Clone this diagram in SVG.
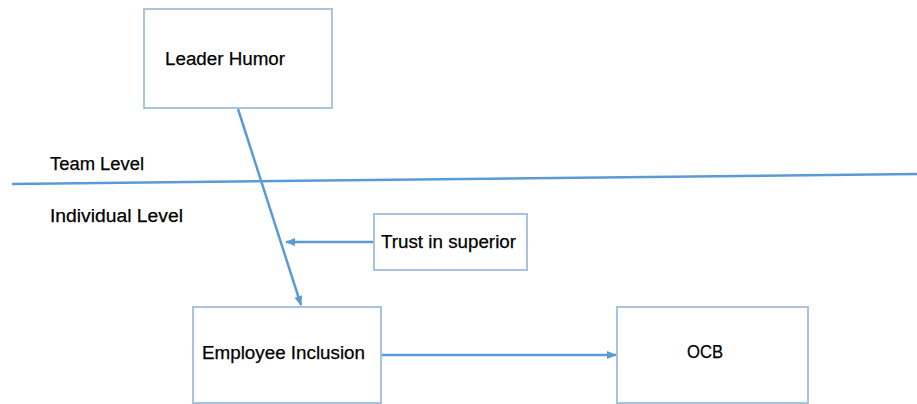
<svg xmlns="http://www.w3.org/2000/svg" width="917" height="404" viewBox="0 0 917 404">
<defs>
<style>
.box{fill:#fff;stroke:#a9c2e0;stroke-width:2}
.lbl{font-family:"Liberation Sans",Arial,sans-serif;font-size:18px;fill:#000;stroke:#000;stroke-width:0.25;lengthAdjust:spacingAndGlyphs}
.ln{stroke:#5b9bd5;stroke-width:2.5;fill:none}
</style>
<marker id="ah" viewBox="0 0 10 10" refX="9" refY="5" markerWidth="4" markerHeight="4" orient="auto" markerUnits="strokeWidth">
<path d="M0,1 L10,5 L0,9 z" fill="#5b9bd5"/>
</marker>
</defs>
<rect width="917" height="404" fill="#fff"/>
<g id="levels">
<text class="lbl" x="50" y="170" textLength="94" lengthAdjust="spacingAndGlyphs">Team Level</text>
<text class="lbl" x="50" y="222" textLength="133" lengthAdjust="spacingAndGlyphs">Individual Level</text>
</g>
<g id="connectors">
<line class="ln" x1="12" y1="184" x2="917" y2="174"/>
<line class="ln" x1="238" y1="109" x2="301" y2="305" marker-end="url(#ah)"/>
<line class="ln" x1="373" y1="242" x2="286" y2="242" marker-end="url(#ah)"/>
<line class="ln" x1="382" y1="355" x2="616" y2="355" marker-end="url(#ah)"/>
</g>
<g id="leader-humor">
<rect class="box" x="144" y="9" width="188" height="99"/>
<text class="lbl" x="165" y="65" textLength="120" lengthAdjust="spacingAndGlyphs">Leader Humor</text>
</g>
<g id="trust">
<rect class="box" x="374" y="214" width="153" height="56"/>
<text class="lbl" x="381" y="248" textLength="135" lengthAdjust="spacingAndGlyphs">Trust in superior</text>
</g>
<g id="employee-inclusion">
<rect class="box" x="193" y="307" width="188" height="96"/>
<text class="lbl" x="202" y="359" textLength="163" lengthAdjust="spacingAndGlyphs">Employee Inclusion</text>
</g>
<g id="ocb">
<rect class="box" x="617" y="307" width="191" height="96"/>
<text class="lbl" x="687" y="358" textLength="36" lengthAdjust="spacingAndGlyphs">OCB</text>
</g>
</svg>
